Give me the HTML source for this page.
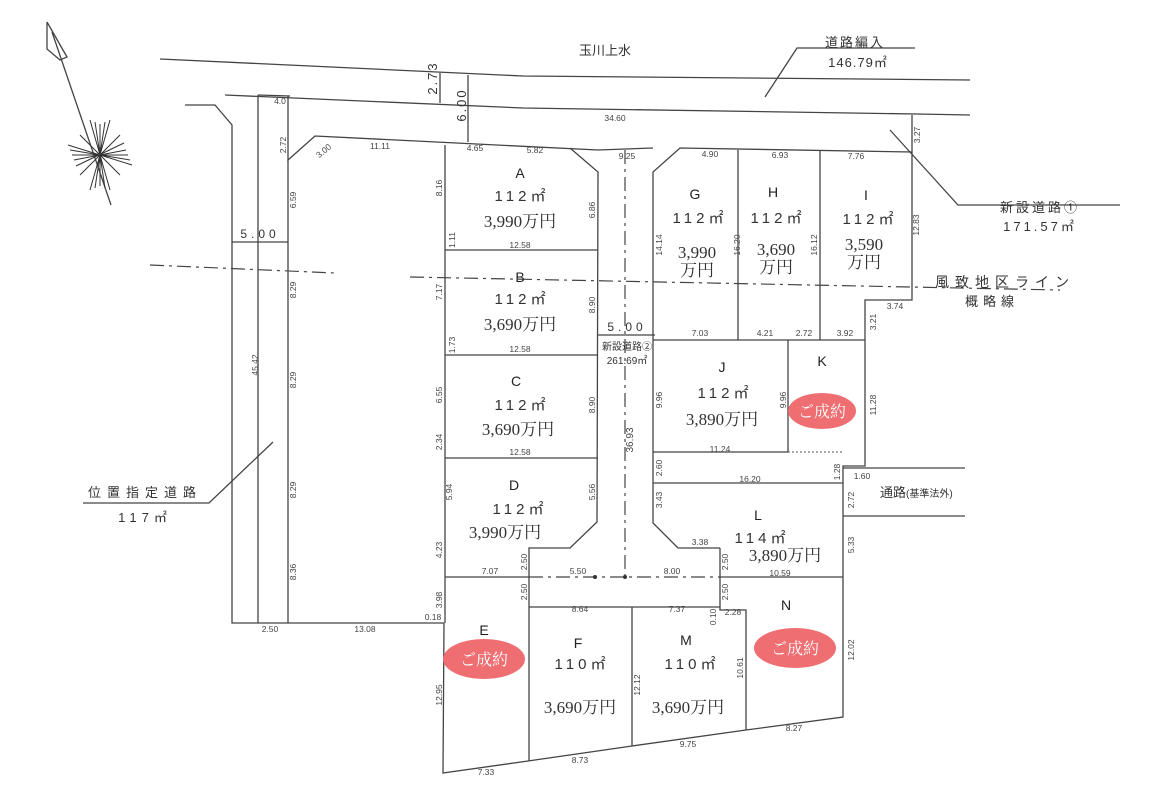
<!DOCTYPE html>
<html><head><meta charset="utf-8"><style>
html,body{margin:0;padding:0;background:#fff;}
svg{display:block}
.s{font-family:"Liberation Sans","Noto Sans CJK JP",sans-serif;fill:#333;}
.d{font-family:"Liberation Sans",sans-serif;font-size:8.5px;fill:#444;}
.p{font-family:"Liberation Serif","Noto Serif CJK SC",serif;font-size:17px;fill:#333;}
.a{font-family:"Liberation Sans","Noto Sans CJK JP",sans-serif;font-size:15px;fill:#333;letter-spacing:4px;}
.L{font-family:"Liberation Sans",sans-serif;font-size:14px;fill:#222;}
.o{font-family:"Liberation Serif","Noto Serif CJK SC",serif;font-size:16px;fill:#fff;}
</style></head><body>
<svg width="1150" height="804" viewBox="0 0 1150 804" xmlns="http://www.w3.org/2000/svg">
<g stroke="#444" stroke-width="1.3" fill="none">
<!-- north arrow -->
<polyline points="47,22 67,57 60,60 47,49 47,22"/>
<line x1="52" y1="32" x2="111" y2="205"/>
<!-- roads top -->
<polyline points="160,59 523,76 970,80"/>
<polyline points="225,95 523,108 917,114 970,115"/>
<line x1="440" y1="73" x2="440" y2="103"/>
<line x1="468" y1="75" x2="468" y2="142"/>
<polyline points="765,97 797,48 915,48"/>
<!-- left road -->
<polyline points="185,105 215,105 232,125 232,623 444,623"/>
<line x1="258" y1="95" x2="258" y2="623"/>
<line x1="258" y1="95" x2="290" y2="96"/>
<polyline points="288,96 288,160 315,136 598,150"/>
<line x1="288" y1="160" x2="288" y2="623"/>
<line x1="232" y1="242" x2="288" y2="242"/>
<polyline points="83,503 209,503 273,442"/>
<!-- site left column -->
<line x1="445" y1="145" x2="445" y2="623"/>
<polyline points="444,623 443,773 528,761 632,746 746,730 843,717 843,483"/>
<polyline points="570,148 598,172 597,522 570,548 529,548 529,761"/>
<line x1="445" y1="250" x2="598" y2="250"/>
<line x1="445" y1="355" x2="598" y2="355"/>
<line x1="445" y1="458" x2="598" y2="458"/>
<line x1="529" y1="607" x2="720" y2="607"/>
<line x1="632" y1="607" x2="632" y2="746"/>
<polyline points="720,548 720,610 746,610 746,730"/>
<polyline points="720,548 678,548 653,523 653,172 680,148 912,152 912,300 865,300 865,466 843,466 843,483"/>
<line x1="912" y1="115" x2="912" y2="152"/>
<line x1="598" y1="150" x2="653" y2="148"/>
<line x1="738" y1="150" x2="738" y2="340"/>
<line x1="820" y1="151" x2="820" y2="340"/>
<line x1="653" y1="340" x2="865" y2="340"/>
<line x1="788" y1="340" x2="788" y2="452"/>
<line x1="653" y1="452" x2="788" y2="452"/>
<line x1="653" y1="483" x2="843" y2="483"/>
<line x1="445" y1="577" x2="529" y2="577"/>
<line x1="720" y1="577" x2="843" y2="577"/>
<line x1="843" y1="468" x2="965" y2="468"/>
<line x1="843" y1="516" x2="965" y2="516"/>
<line x1="598" y1="335" x2="655" y2="335"/>
<polyline points="890,130 958,205 1120,205"/>
</g>
<g stroke="#444" stroke-width="1.2" fill="none" stroke-dasharray="14,5,3,5">
<line x1="150" y1="265" x2="335" y2="273"/>
<line x1="410" y1="277" x2="1060" y2="290"/>
<line x1="625" y1="150" x2="625" y2="577"/>
<line x1="529" y1="577" x2="720" y2="577"/>
</g>
<line x1="788" y1="452" x2="843" y2="452" stroke="#555" stroke-dasharray="2,2"/>
<circle cx="625" cy="577" r="2" fill="#333"/><circle cx="595" cy="577" r="2" fill="#333"/>
<!-- compass star -->
<g stroke="#333" stroke-width="1">
<path d="M68,145 L132,165 M70,150 L130,160 M72,155 L128,155 M74,160 L126,150 M76,166 L124,143 M90,120 L110,190 M95,122 L105,188 M100,124 L100,186 M105,122 L95,188 M110,120 L90,190 M80,135 L120,175 M120,135 L80,175"/>
</g>
<!-- labels -->
<text x="605" y="55" class="s" font-size="13" text-anchor="middle">玉川上水</text>
<text x="855" y="47" class="s" font-size="13" text-anchor="middle" letter-spacing="2">道路編入</text>
<text x="858" y="67" class="s" font-size="13" text-anchor="middle" letter-spacing="1">146.79㎡</text>
<text x="1040" y="212" class="s" font-size="13" text-anchor="middle" letter-spacing="3">新設道路①</text>
<text x="1040" y="231" class="s" font-size="13" text-anchor="middle" letter-spacing="3">171.57㎡</text>
<text x="1005" y="287" class="s" font-size="14" text-anchor="middle" letter-spacing="6">風致地区ライン</text>
<text x="992" y="306" class="s" font-size="13" text-anchor="middle" letter-spacing="5">概略線</text>
<text x="145" y="497" class="s" font-size="13" text-anchor="middle" letter-spacing="6">位置指定道路</text>
<text x="145" y="522" class="s" font-size="13" text-anchor="middle" letter-spacing="5">117㎡</text>
<text x="880" y="497" class="s" font-size="13">通路<tspan font-size="10">(基準法外)</tspan></text>
<text x="627" y="350" class="s" font-size="10" text-anchor="middle">新設道路②</text>
<text x="627" y="364" class="s" font-size="10" text-anchor="middle">261.69㎡</text>
<text x="260" y="238" class="s" font-size="12" text-anchor="middle" letter-spacing="4">5.00</text>
<text x="627" y="331" class="s" font-size="12" text-anchor="middle" letter-spacing="4">5.00</text>
<text transform="translate(437,78) rotate(-90)" class="s" font-size="13" text-anchor="middle" letter-spacing="2">2.73</text>
<text transform="translate(466,105) rotate(-90)" class="s" font-size="13" text-anchor="middle" letter-spacing="2">6.00</text>
<!-- dimension numbers -->
<g class="d" text-anchor="middle">
<text x="615" y="121">34.60</text><text x="280" y="104">4.0</text>
<text x="380" y="149">11.11</text><text x="475" y="151">4.65</text><text x="535" y="153">5.82</text>
<text x="627" y="159">9.25</text><text x="710" y="157">4.90</text><text x="780" y="158">6.93</text><text x="856" y="159">7.76</text>
<text x="520" y="248">12.58</text><text x="520" y="352">12.58</text><text x="520" y="455">12.58</text>
<text x="490" y="574">7.07</text><text x="578" y="574">5.50</text><text x="672" y="574">8.00</text><text x="780" y="576">10.59</text>
<text x="580" y="612">8.64</text><text x="677" y="612">7.37</text><text x="733" y="615">2.28</text>
<text x="700" y="336">7.03</text><text x="765" y="336">4.21</text><text x="804" y="336">2.72</text><text x="845" y="336">3.92</text>
<text x="895" y="309">3.74</text><text x="720" y="452">11.24</text><text x="750" y="482">16.20</text><text x="862" y="479">1.60</text>
<text x="700" y="545">3.38</text><text x="270" y="632">2.50</text><text x="365" y="632">13.08</text><text x="433" y="620">0.18</text>
<text x="486" y="775">7.33</text><text x="580" y="763">8.73</text><text x="688" y="747">9.75</text><text x="794" y="731">8.27</text>
<text x="320" y="166" transform="rotate(-40,305,152)">3.00</text>
</g>
<g class="d" text-anchor="middle">
<text transform="translate(286,145) rotate(-90)">2.72</text>
<text transform="translate(296,200) rotate(-90)">6.59</text>
<text transform="translate(296,290) rotate(-90)">8.29</text>
<text transform="translate(296,380) rotate(-90)">8.29</text>
<text transform="translate(296,490) rotate(-90)">8.29</text>
<text transform="translate(296,572) rotate(-90)">8.36</text>
<text transform="translate(258,365) rotate(-90)">45.42</text>
<text transform="translate(442,188) rotate(-90)">8.16</text>
<text transform="translate(455,240) rotate(-90)">1.11</text>
<text transform="translate(442,292) rotate(-90)">7.17</text>
<text transform="translate(455,345) rotate(-90)">1.73</text>
<text transform="translate(442,395) rotate(-90)">6.55</text>
<text transform="translate(442,442) rotate(-90)">2.34</text>
<text transform="translate(452,492) rotate(-90)">5.94</text>
<text transform="translate(442,550) rotate(-90)">4.23</text>
<text transform="translate(442,600) rotate(-90)">3.98</text>
<text transform="translate(442,695) rotate(-90)">12.95</text>
<text transform="translate(595,210) rotate(-90)">6.86</text>
<text transform="translate(595,305) rotate(-90)">8.90</text>
<text transform="translate(595,405) rotate(-90)">8.90</text>
<text transform="translate(595,492) rotate(-90)">5.56</text>
<text transform="translate(527,562) rotate(-90)">2.50</text>
<text transform="translate(527,592) rotate(-90)">2.50</text>
<text transform="translate(728,562) rotate(-90)">2.50</text>
<text transform="translate(728,592) rotate(-90)">2.50</text>
<text transform="translate(716,617) rotate(-90)">0.10</text>
<text transform="translate(640,685) rotate(-90)">12.12</text>
<text transform="translate(743,668) rotate(-90)">10.61</text>
<text transform="translate(854,650) rotate(-90)">12.02</text>
<text transform="translate(854,545) rotate(-90)">5.33</text>
<text transform="translate(854,500) rotate(-90)">2.72</text>
<text transform="translate(840,472) rotate(-90)">1.28</text>
<text transform="translate(662,468) rotate(-90)">2.60</text>
<text transform="translate(662,500) rotate(-90)">3.43</text>
<text transform="translate(633,440) rotate(-90)" font-size="10">36.93</text>
<text transform="translate(662,400) rotate(-90)">9.96</text>
<text transform="translate(786,400) rotate(-90)">9.96</text>
<text transform="translate(876,405) rotate(-90)">11.28</text>
<text transform="translate(876,322) rotate(-90)">3.21</text>
<text transform="translate(919,225) rotate(-90)">12.83</text>
<text transform="translate(920,135) rotate(-90)">3.27</text>
<text transform="translate(662,245) rotate(-90)">14.14</text>
<text transform="translate(740,245) rotate(-90)">16.20</text>
<text transform="translate(817,245) rotate(-90)">16.12</text>
</g>
<!-- lots -->
<g text-anchor="middle">
<text x="520" y="178" class="L">A</text><text x="522" y="201" class="a">112㎡</text><text x="520" y="227" class="p">3,990万円</text>
<text x="520" y="282" class="L">B</text><text x="522" y="304" class="a">112㎡</text><text x="520" y="330" class="p">3,690万円</text>
<text x="516" y="386" class="L">C</text><text x="522" y="410" class="a">112㎡</text><text x="518" y="435" class="p">3,690万円</text>
<text x="514" y="490" class="L">D</text><text x="520" y="514" class="a">112㎡</text><text x="505" y="538" class="p">3,990万円</text>
<text x="484" y="635" class="L">E</text>
<text x="578" y="648" class="L">F</text><text x="582" y="669" class="a">110㎡</text><text x="580" y="713" class="p">3,690万円</text>
<text x="686" y="645" class="L">M</text><text x="692" y="669" class="a">110㎡</text><text x="688" y="713" class="p">3,690万円</text>
<text x="786" y="610" class="L">N</text>
<text x="758" y="520" class="L">L</text><text x="762" y="543" class="a">114㎡</text><text x="785" y="561" class="p" font-size="11">3,890万円</text>
<text x="722" y="372" class="L">J</text><text x="725" y="398" class="a">112㎡</text><text x="722" y="425" class="p">3,890万円</text>
<text x="822" y="366" class="L">K</text>
<text x="695" y="199" class="L">G</text><text x="700" y="223" class="a">112㎡</text><text x="697" y="258" class="p">3,990</text><text x="697" y="276" class="p">万円</text>
<text x="773" y="197" class="L">H</text><text x="778" y="223" class="a">112㎡</text><text x="776" y="255" class="p">3,690</text><text x="776" y="273" class="p">万円</text>
<text x="866" y="200" class="L">I</text><text x="870" y="224" class="a">112㎡</text><text x="864" y="250" class="p">3,590</text><text x="864" y="268" class="p">万円</text>
</g>
<ellipse cx="822" cy="411" rx="34" ry="18" fill="#ee6e72"/>
<text x="822" y="417" class="o" text-anchor="middle">ご成約</text>
<ellipse cx="484" cy="659" rx="41" ry="20" fill="#ee6e72"/>
<text x="484" y="665" class="o" text-anchor="middle">ご成約</text>
<ellipse cx="795" cy="648" rx="41" ry="20" fill="#ee6e72"/>
<text x="795" y="654" class="o" text-anchor="middle">ご成約</text>
</svg>
</body></html>
